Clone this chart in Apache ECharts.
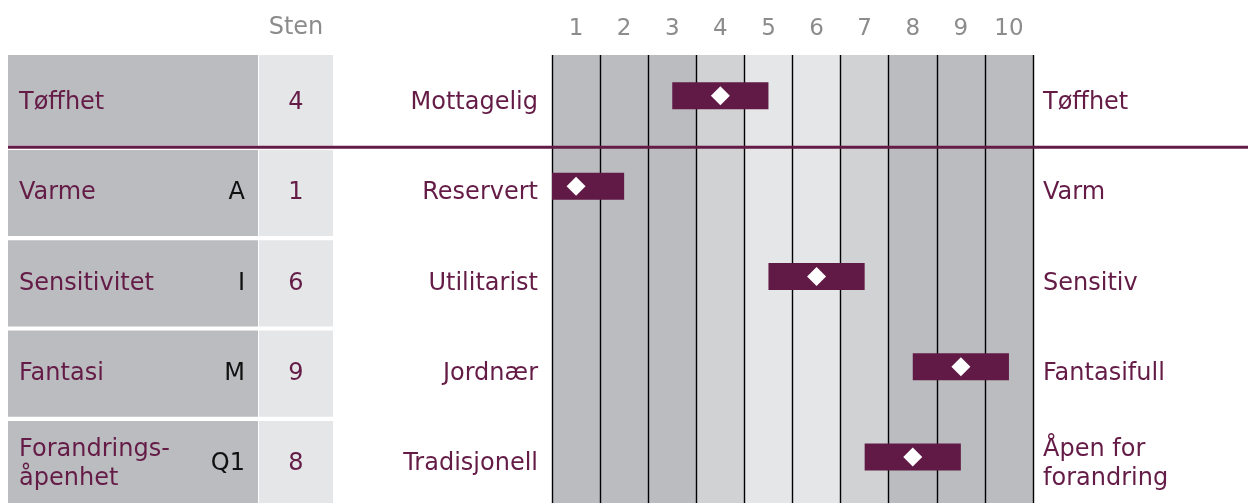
<!DOCTYPE html>
<html>
<head>
<meta charset="utf-8">
<script src="https://cdn.jsdelivr.net/npm/echarts@6/dist/echarts.min.js"></script>
<style>
  html, body { margin: 0; padding: 0; background: #fff; }
  #chart { width: 1248px; height: 503px; }
</style>
</head>
<body>
<div id="chart"></div>
<script>
// profile data
const stenTicks = ["1", "2", "3", "4", "5", "6", "7", "8", "9", "10"]
const factorNames = ["Tøffhet", "Varme", "Sensitivitet", "Fantasi", "Forandrings-\nåpenhet"]
const factorCodes = ["", "A", "I", "M", "Q1"]
const stenScores = [4, 1, 6, 9, 8]
const lowPoles = ["Mottagelig", "Reservert", "Utilitarist", "Jordnær", "Tradisjonell"]
const highPoles = ["Tøffhet", "Varm", "Sensitiv", "Fantasifull", "Åpen for\nforandring"]

const DARK = "#bbbcc0", MID = "#d1d2d4", LIGHT = "#e5e6e8"
const columnShades = [DARK, DARK, DARK, MID, LIGHT, LIGHT, MID, DARK, DARK, DARK]
const PURPLE = "#641c47"
const BAR = "#611a45"
const GREY = "#8c8c8c"
const FONT = "DejaVu Sans"

const chart = echarts.init(document.getElementById("chart"))

// left table: factor name, code, sten score
const renderTable = (params, api) => {
    const row = api.value(1)
    const cy = api.coord([0, row])[1]
    const bandH = api.size([0, 1])[1]
    const top = cy - bandH / 2 + (row === 0 ? -2.7 : 2)
    const bottom = cy + bandH / 2 - 2.2
    const txt = {fontFamily: FONT, fontSize: 24, lineHeight: 29, verticalAlign: "middle"}
    const children = [
        {type: "rect", shape: {x: 8, y: top, width: 250, height: bottom - top}, style: {fill: DARK}},
        {type: "rect", shape: {x: 259, y: top, width: 74, height: bottom - top}, style: {fill: LIGHT}},
        {type: "text", x: 19, y: cy, style: {...txt, text: factorNames[row], fill: PURPLE, align: "left"}},
        {type: "text", x: 245, y: cy, style: {...txt, text: factorCodes[row], fill: "#111", align: "right"}},
        {type: "text", x: 296, y: cy, style: {...txt, text: String(stenScores[row]), fill: PURPLE, align: "center"}}
    ]
    if (row === 0) {
        const lineY = cy + bandH / 2 - 0.8
        children.push({
            type: "line", z2: 10,
            shape: {x1: 8, y1: lineY, x2: chart.getWidth(), y2: lineY},
            style: {stroke: PURPLE, lineWidth: 3}
        })
    }
    return {type: "group", children}
}

// sten band (score +/- 1, clipped to the scale) with diamond marker
const renderBand = (params, api) => {
    const idx = api.value(0)
    const s = idx + 1
    const p = api.coord([idx, api.value(1)])
    const bw = api.size([1, 0])[0]
    const left = p[0] - Math.min(1, s - 0.5) * bw
    const right = p[0] + Math.min(1, 10.5 - s) * bw
    const cy = p[1] - 7
    const h = 27, d = 9.5
    return {
        type: "group",
        children: [
            {type: "rect", shape: {x: left, y: cy - h / 2, width: right - left, height: h}, style: {fill: BAR}},
            {type: "polygon", shape: {points: [[p[0], cy - d], [p[0] + d, cy], [p[0], cy + d], [p[0] - d, cy]]}, style: {fill: "#fff"}}
        ]
    }
}

const poleLabel = {color: PURPLE, fontSize: 24, fontFamily: FONT, lineHeight: 29}

const option = {
    animation: false,
    textStyle: {fontFamily: FONT},
    grid: [
        // column backdrop with sten scale
        {left: 552, right: 215, top: 55, bottom: 0, outerBoundsMode: "none", containLabel: false},
        // factor rows
        {left: 552, right: 215, top: 57.7, height: 451.5, outerBoundsMode: "none", containLabel: false}
    ],
    graphic: [{
        type: "text", x: 296, y: 28,
        style: {text: "Sten", fill: GREY, fontFamily: FONT, fontSize: 24, align: "center", verticalAlign: "middle"}
    }],
    xAxis: [
        {
            gridIndex: 0,
            type: "category",
            data: stenTicks,
            position: "top",
            boundaryGap: true,
            axisLine: {show: false},
            axisTick: {show: false},
            axisLabel: {interval: 0, color: GREY, fontSize: 23, fontFamily: FONT, margin: 14},
            splitArea: {show: true, interval: 0, areaStyle: {color: columnShades}},
            splitLine: {show: true, interval: 0, lineStyle: {color: "#000", width: 1.4}}
        },
        {
            gridIndex: 1,
            type: "category",
            data: stenTicks,
            show: false
        }
    ],
    yAxis: [
        {gridIndex: 0, type: "value", min: 0, max: 1, show: false},
        {
            gridIndex: 1, type: "category", data: lowPoles, inverse: true,
            axisLine: {show: false}, axisTick: {show: false},
            axisLabel: {...poleLabel, margin: 14}
        },
        {
            gridIndex: 1, type: "category", data: highPoles, inverse: true, position: "right",
            axisLine: {show: false}, axisTick: {show: false},
            axisLabel: {...poleLabel, margin: 10, align: "left"}
        }
    ],
    series: [
        {
            type: "custom", name: "table", clip: false, silent: true,
            xAxisIndex: 1, yAxisIndex: 1,
            renderItem: renderTable,
            data: factorNames.map((n, i) => [0, i])
        },
        {
            type: "custom", name: "sten", silent: true,
            xAxisIndex: 1, yAxisIndex: 1,
            renderItem: renderBand,
            data: stenScores.map((s, i) => [s - 1, i])
        }
    ]
}

chart.setOption(option)
</script>
</body>
</html>
